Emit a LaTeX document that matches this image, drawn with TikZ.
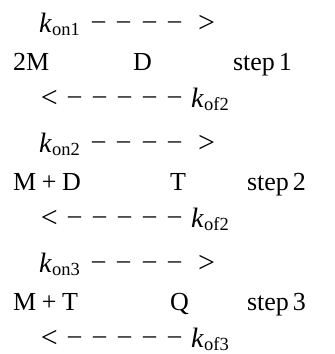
\documentclass[tikz,border=0pt]{standalone}
\usepackage{fontspec}
\setmainfont{Liberation Serif}
\newcommand\kk[1]{{\fontsize{28}{28}\selectfont\textit{k}}\kern0.01em\raisebox{-0.12em}{\fontsize{18.5}{18.5}\selectfont #1}}
\newcommand\dsh{\raisebox{4pt}{–}}
\tikzset{tok/.style={anchor=base west, inner sep=0pt, outer sep=0pt, font=\fontsize{26}{26}\selectfont},
  rel/.style={tok, font=\fontsize{30}{30}\selectfont}}
\begin{document}
\begin{tikzpicture}[x=1pt,y=-1pt]
\useasboundingbox (0,0) rectangle (335,354);
\foreach \b/\i/\on/\of/\lhs/\mid/\mx/\sx in {0/1/on1/of2/2M/D/133/233, 120/2/on2/of2/{M\hspace{0.22em}+\hspace{0.22em}D}/T/170/247, 240/3/on3/of3/{M\hspace{0.22em}+\hspace{0.22em}T}/Q/170/247}{
  \node[tok] (kon\i) at (39,32+\b) {\kk{\on}};
  \foreach \x [count=\j] in {92,117,143,168}
    \node[tok] (fd\i\j) at (\x,32+\b) {\dsh};
  \node[rel] (gt\i) at (198,32+\b) {>};
  \node[tok] (lhs\i) at (13,70+\b) {\lhs};
  \node[tok] (mid\i) at (\mx,70+\b) {\mid};
  \node[tok] (step\i) at (\sx,70+\b) {step\hspace{0.15em}\i};
  \node[rel] (lt\i) at (41,107.5+\b) {<};
  \foreach \x [count=\j] in {68,93,118,143,168}
    \node[tok] (bd\i\j) at (\x,107.5+\b) {\dsh};
  \node[tok] (kof\i) at (191,107.5+\b) {\kk{\of}};
}
\end{tikzpicture}
\end{document}
